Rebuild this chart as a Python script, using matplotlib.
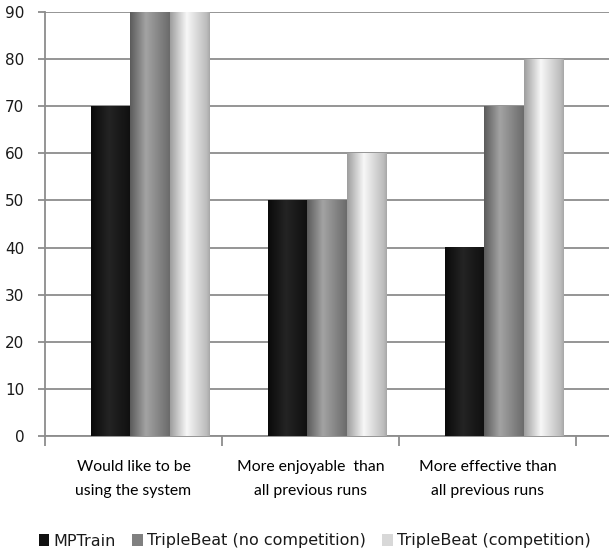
import numpy as np
import matplotlib.pyplot as plt
from matplotlib.patches import Patch

categories = ['Would like to be\nusing the system',
              'More enjoyable  than\nall previous runs',
              'More effective than\nall previous runs']
series = ['MPTrain', 'TripleBeat (no competition)', 'TripleBeat (competition)']
mptrain = [70, 50, 40]
tb_nocomp = [90, 50, 70]
tb_comp = [90, 60, 80]
values = [mptrain, tb_nocomp, tb_comp]

legend_colors = ['#111111', '#808080', '#d8d8d8']
# cylinder-like shading across each bar: (position, grey level)
shades = [
    ([0, 0.45, 1], [0.04, 0.14, 0.06]),
    ([0, 0.4, 1], [0.36, 0.64, 0.42]),
    ([0, 0.42, 0.92, 1], [0.62, 0.97, 0.74, 0.66]),
]

fig = plt.figure(figsize=(6.09, 5.51), dpi=100)
W, H = 609, 551
ax = fig.add_axes([45 / W, (H - 436) / H, (W - 45) / W, (436 - 12) / H])

width = 0.225
shift = 0.095
x = np.arange(len(categories))
t = np.linspace(0, 1, 64)
for k, vals in enumerate(values):
    pos, lev = shades[k]
    g = np.interp(t, pos, lev)
    img = np.dstack([g, g, g])
    for i, v in enumerate(vals):
        c = x[i] + shift + (k - 1) * width
        ax.imshow(img, extent=[c - width / 2, c + width / 2, 0, v],
                  aspect='auto', interpolation='bilinear', zorder=3)

ax.set_xlim(-0.5, -0.5 + 564 / 177)
ax.set_ylim(0, 90)
ax.set_yticks(np.arange(0, 91, 10))
ax.grid(axis='y', color='#8c8c8c', lw=1.3, zorder=1)
ax.set_axisbelow(True)

for s in ['top', 'right']:
    ax.spines[s].set_visible(False)
for s in ['left', 'bottom']:
    ax.spines[s].set_color('#8c8c8c')
    ax.spines[s].set_linewidth(1.3)

ax.set_xticks(x)
ax.set_xticklabels(categories, fontfamily='Lato', fontsize=11.3, linespacing=1.9)
ax.set_xticks([-0.5, 0.5, 1.5, 2.5], minor=True)
ax.tick_params(axis='x', which='major', length=0, pad=17)
ax.tick_params(axis='x', which='minor', length=7, color='#8c8c8c', width=1.3)
ax.tick_params(axis='y', length=5, color='#8c8c8c', width=1.3, labelsize=11,
               pad=10, labelcolor='#1a1a1a')

handles = [Patch(facecolor=c, edgecolor='none') for c in legend_colors]
fig.legend(handles, series, loc='center', bbox_to_anchor=(0.517, 1 - 541 / H),
           ncol=3, frameon=False, fontsize=11.5, handlelength=0.65, handleheight=0.75,
           handletextpad=0.3, columnspacing=1.0, labelcolor='#1a1a1a')

plt.savefig('out.png', dpi=100)
